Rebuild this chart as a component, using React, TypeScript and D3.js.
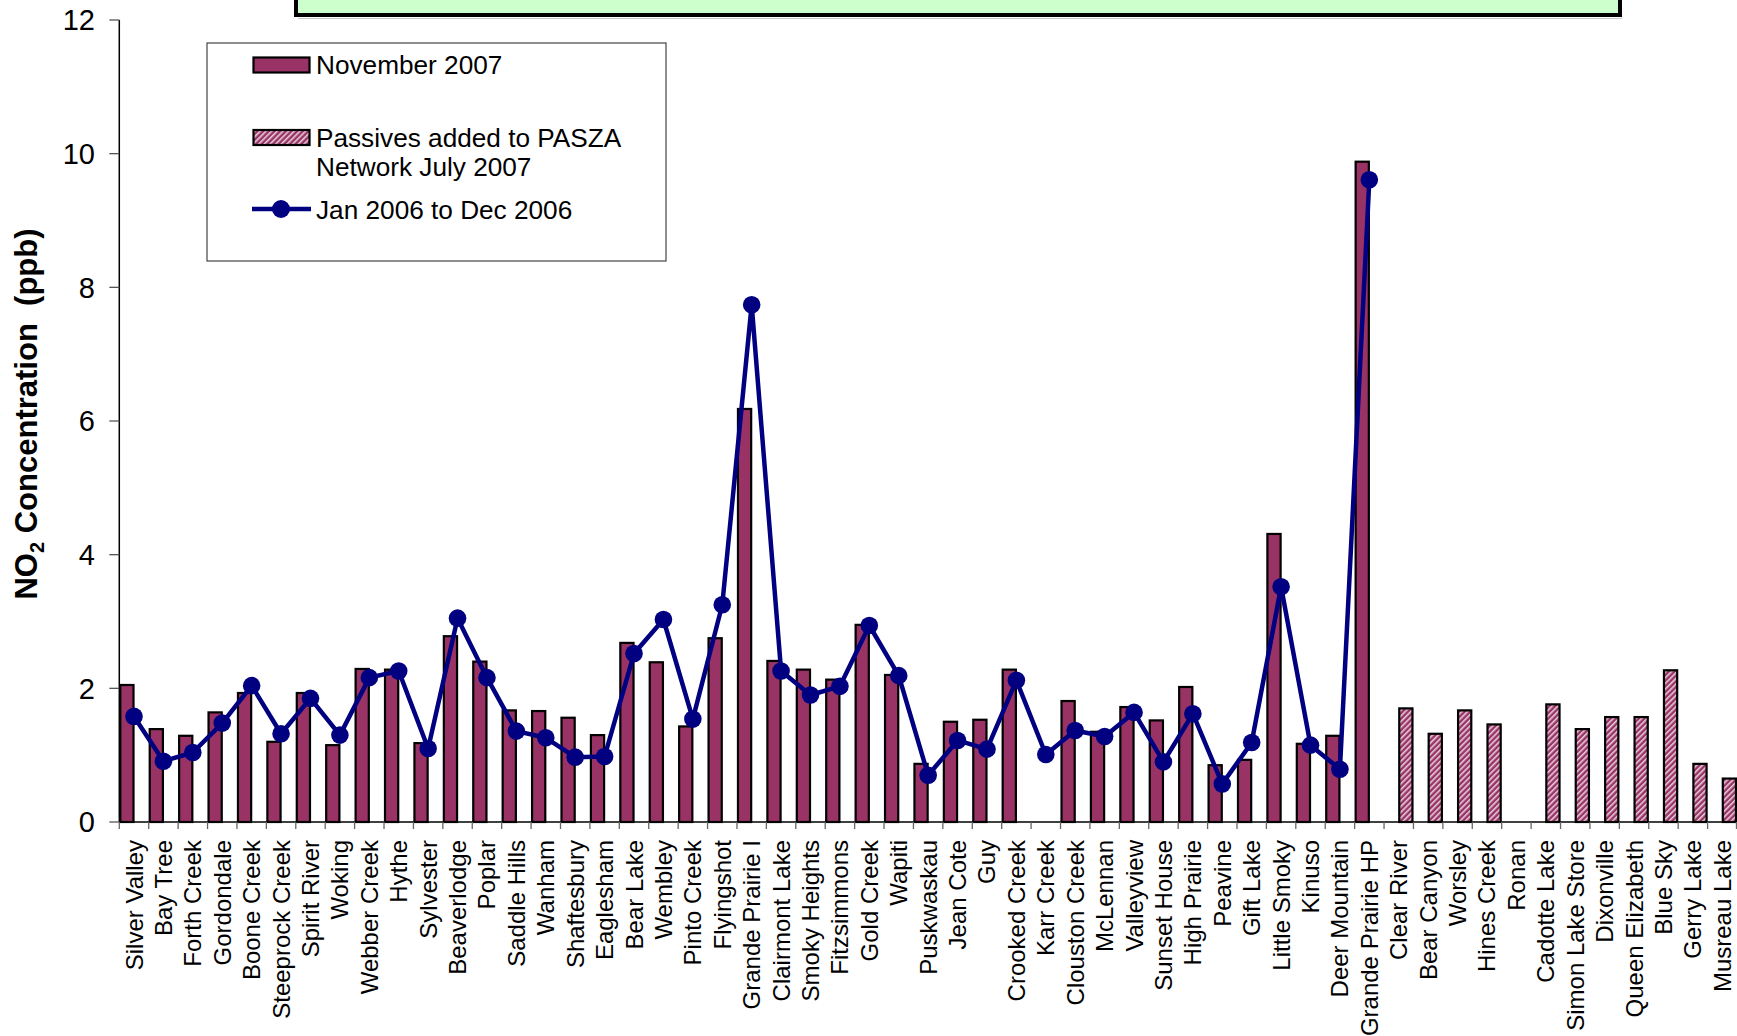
import React from "react";
import * as d3 from "d3";

const categories = [
  "Silver Valley", "Bay Tree", "Forth Creek", "Gordondale", "Boone Creek", "Steeprock Creek",
  "Spirit River", "Woking", "Webber Creek", "Hythe", "Sylvester", "Beaverlodge", "Poplar",
  "Saddle Hills", "Wanham", "Shaftesbury", "Eaglesham", "Bear Lake", "Wembley", "Pinto Creek",
  "Flyingshot", "Grande Prairie I", "Clairmont Lake", "Smoky Heights", "Fitzsimmons", "Gold Creek",
  "Wapiti", "Puskwaskau", "Jean Cote", "Guy", "Crooked Creek", "Karr Creek", "Clouston Creek",
  "McLennan", "Valleyview", "Sunset House", "High Prairie", "Peavine", "Gift Lake", "Little Smoky",
  "Kinuso", "Deer Mountain", "Grande Prairie HP", "Clear River", "Bear Canyon", "Worsley",
  "Hines Creek", "Ronan", "Cadotte Lake", "Simon Lake Store", "Dixonville", "Queen Elizabeth",
  "Blue Sky", "Gerry Lake", "Musreau Lake",
];

const november2007: (number | null)[] = [
  2.05, 1.39, 1.29, 1.64, 1.93, 1.20, 1.93, 1.15, 2.29, 2.28, 1.18, 2.78, 2.40,
  1.67, 1.66, 1.56, 1.30, 2.68, 2.39, 1.43, 2.75, 6.18, 2.41, 2.28, 2.13, 2.95,
  2.20, 0.87, 1.50, 1.53, 2.28, null, 1.81, 1.35, 1.72, 1.52, 2.02, 0.85, 0.93, 4.31,
  1.17, 1.29, 9.88, null, null, null, null, null, null, null, null, null, null, null, null,
];

const passives2007: (number | null)[] = [
  null, null, null, null, null, null, null, null, null, null, null, null, null,
  null, null, null, null, null, null, null, null, null, null, null, null, null,
  null, null, null, null, null, null, null, null, null, null, null, null, null, null,
  null, null, null, 1.70, 1.32, 1.67, 1.46, null, 1.76, 1.39, 1.57, 1.57, 2.27, 0.87, 0.65,
];

const annual2006: (number | null)[] = [
  1.58, 0.91, 1.04, 1.48, 2.04, 1.32, 1.85, 1.30, 2.16, 2.26, 1.10, 3.05, 2.16,
  1.36, 1.26, 0.97, 0.98, 2.52, 3.03, 1.54, 3.25, 7.74, 2.26, 1.90, 2.03, 2.94,
  2.19, 0.70, 1.22, 1.09, 2.12, 1.01, 1.37, 1.28, 1.64, 0.90, 1.62, 0.57, 1.19, 3.52,
  1.15, 0.79, 9.61, null, null, null, null, null, null, null, null, null, null, null, null,
];

const yTicks = [0, 2, 4, 6, 8, 10, 12];

const legendLabels = ["November 2007", "Passives added to PASZA", "Network July 2007", "Jan 2006 to Dec 2006"];

const FONT = "'Liberation Sans', Arial, Helvetica, sans-serif";
const BAR = "#993366";
const NAVY = "#000080";

export default function App() {
  const W = 1737;
  const H = 1036;
  const x0 = 119.3;
  const x1 = 1737;
  const yBase = 822;
  const yTop = 20;

  const x = d3.scaleBand<string>().domain(categories).range([x0, x1]).padding(0);
  const y = d3.scaleLinear().domain([0, 12]).range([yBase, yTop]);
  const bw = x.bandwidth();

  const linePts = categories
    .map((c, i) => ({ c, v: annual2006[i] }))
    .filter((d) => d.v !== null) as { c: string; v: number }[];

  const lineGen = d3
    .line<{ c: string; v: number }>()
    .x((d) => (x(d.c) as number) + bw / 2)
    .y((d) => y(d.v));

  return (
    <svg
      width={W}
      height={H}
      style={{ position: "absolute", left: 0, top: 0, background: "#fff" }}
      fontFamily={FONT}
    >
      <defs>
        <pattern id="hatch" width="4" height="4" patternUnits="userSpaceOnUse" patternTransform="rotate(45)">
          <rect width="4" height="4" fill={BAR} />
          <line x1="0.8" y1="0" x2="0.8" y2="4" stroke="#ffffff" strokeWidth="1.5" strokeOpacity="0.8" />
        </pattern>
      </defs>

      {/* green title box (cut off at top) */}
      <line x1={298} x2={1622} y1={18.5} y2={18.5} stroke="#c8c8c8" strokeWidth={1} />
      <rect x={296} y={-10} width={1324} height={25} fill="#CCFFCC" stroke="#000" strokeWidth={4} />

      {/* y axis */}
      <line x1={x0} x2={x0} y1={yTop} y2={yBase} stroke="#000" strokeWidth={1.5} />
      {yTicks.map((t) => (
        <g key={t}>
          <line x1={x0 - 10} x2={x0} y1={y(t)} y2={y(t)} stroke="#555" strokeWidth={1.3} />
          <text x={95} y={y(t)} dy="0.36em" textAnchor="end" fontSize={29} fill="#000">
            {t}
          </text>
        </g>
      ))}

      {/* y axis title */}
      <text
        transform={`translate(37,414) rotate(-90)`}
        textAnchor="middle"
        fontSize={31}
        fontWeight="bold"
        fill="#000"
      >
        NO<tspan fontSize={20} dy="7">2</tspan>
        <tspan dy="-7">{" Concentration\u00a0 (ppb)"}</tspan>
      </text>

      {/* bars: November 2007 */}
      {categories.map((c, i) =>
        november2007[i] === null ? null : (
          <rect
            key={"n" + c}
            x={(x(c) as number) + 1}
            y={y(november2007[i] as number)}
            width={bw / 2 - 1.5}
            height={yBase - y(november2007[i] as number)}
            fill={BAR}
            stroke="#000"
            strokeWidth={2.2}
          />
        )
      )}

      {/* bars: passives */}
      {categories.map((c, i) =>
        passives2007[i] === null ? null : (
          <rect
            key={"p" + c}
            x={(x(c) as number) + bw / 2 + 0.5}
            y={y(passives2007[i] as number)}
            width={bw / 2 - 1.5}
            height={yBase - y(passives2007[i] as number)}
            fill="url(#hatch)"
            stroke="#000"
            strokeWidth={2.2}
          />
        )
      )}

      {/* x axis */}
      <line x1={x0} x2={x1} y1={yBase} y2={yBase} stroke="#000" strokeWidth={1.5} />
      {categories.map((c) => (
        <line
          key={"t" + c}
          x1={x(c) as number}
          x2={x(c) as number}
          y1={yBase}
          y2={yBase + 7}
          stroke="#666"
          strokeWidth={1.3}
        />
      ))}
      <line x1={x1 - 0.5} x2={x1 - 0.5} y1={yBase} y2={yBase + 7} stroke="#666" strokeWidth={1.3} />

      {/* category labels */}
      {categories.map((c) => (
        <text
          key={"l" + c}
          transform={`translate(${(x(c) as number) + bw / 2 + 8.5},840) rotate(-90)`}
          textAnchor="end"
          fontSize={24}
          fill="#000"
        >
          {c}
        </text>
      ))}

      {/* line series */}
      <path d={lineGen(linePts) || ""} fill="none" stroke={NAVY} strokeWidth={4.5} strokeLinejoin="round" />
      {linePts.map((d) => (
        <circle key={"m" + d.c} cx={(x(d.c) as number) + bw / 2} cy={y(d.v)} r={8.8} fill={NAVY} />
      ))}

      {/* legend */}
      <rect x={207} y={43} width={459} height={218} fill="#fff" stroke="#444" strokeWidth={1.2} />
      <rect x={253.5} y={57.5} width={56} height={15} fill={BAR} stroke="#000" strokeWidth={2.2} />
      <text x={316} y={74} fontSize={26.2} fill="#000">{legendLabels[0]}</text>
      <rect x={253.5} y={130} width={56} height={15} fill="url(#hatch)" stroke="#000" strokeWidth={2.2} />
      <text x={316} y={147} fontSize={26.2} fill="#000">{legendLabels[1]}</text>
      <text x={316} y={175.5} fontSize={26.2} fill="#000">{legendLabels[2]}</text>
      <line x1={252} x2={311} y1={209} y2={209} stroke={NAVY} strokeWidth={4.5} />
      <circle cx={281} cy={209} r={9} fill={NAVY} />
      <text x={316} y={219} fontSize={26.2} fill="#000">{legendLabels[3]}</text>
    </svg>
  );
}
